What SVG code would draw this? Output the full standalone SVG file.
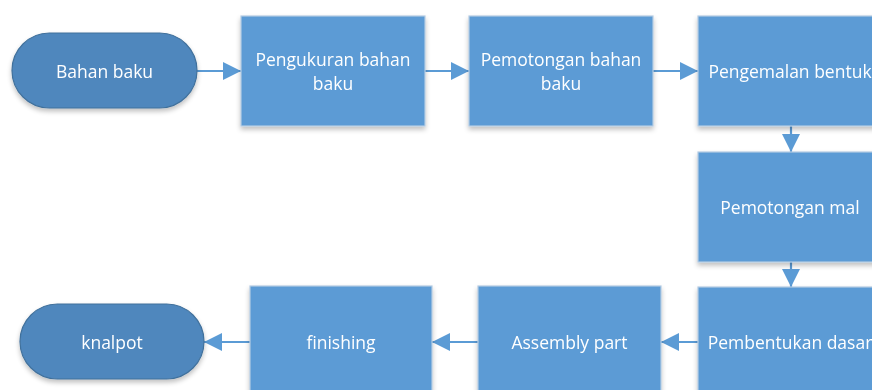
<svg xmlns="http://www.w3.org/2000/svg" width="872" height="390" viewBox="0 0 872 390">
<style>
.box{fill:#5B9BD5;stroke:#B4CBE3;stroke-width:1.2}
.term{fill:#4F87BD;stroke:#41719C;stroke-width:1.2}
.lbl{font-family:"Open Sans","Liberation Sans",sans-serif;font-size:17.5px;fill:#FFFFFF;text-anchor:middle}
.conn{stroke:#5B9BD5;stroke-width:2.2;fill:none}
</style>
<defs>
<filter id="sh" x="-10%" y="-10%" width="120%" height="130%">
<feGaussianBlur in="SourceAlpha" stdDeviation="2.5"/>
<feOffset dx="0" dy="3" result="b"/>
<feComponentTransfer><feFuncA type="linear" slope="0.25"/></feComponentTransfer>
<feMerge><feMergeNode/><feMergeNode in="SourceGraphic"/></feMerge>
</filter>
<marker id="ah" markerWidth="18" markerHeight="18" viewBox="0 0 18 18" refX="18" refY="9" orient="auto" markerUnits="userSpaceOnUse">
<path d="M0,0 L18,9 L0,18 Z" fill="#5B9BD5"/>
</marker>
</defs>
<g id="connectors">
<line class="conn" x1="197" y1="71" x2="241" y2="71" marker-end="url(#ah)"/>
<line class="conn" x1="425" y1="71" x2="469" y2="71" marker-end="url(#ah)"/>
<line class="conn" x1="653" y1="71" x2="698" y2="71" marker-end="url(#ah)"/>
<line class="conn" x1="791" y1="126" x2="791" y2="152" marker-end="url(#ah)"/>
<line class="conn" x1="791" y1="262" x2="791" y2="287" marker-end="url(#ah)"/>
<line class="conn" x1="698" y1="342" x2="661" y2="342" marker-end="url(#ah)"/>
<line class="conn" x1="478" y1="342" x2="432" y2="342" marker-end="url(#ah)"/>
<line class="conn" x1="250" y1="342" x2="204" y2="342" marker-end="url(#ah)"/>
</g>
<g id="bahan-baku" filter="url(#sh)">
<rect class="term" x="12" y="33" width="185" height="75" rx="37.5"/>
<text class="lbl" x="104.5" y="77.5">Bahan baku</text>
</g>
<g id="pengukuran" filter="url(#sh)">
<rect class="box" x="241" y="16" width="184" height="110"/>
<text class="lbl" x="333" y="65.5">Pengukuran bahan</text>
<text class="lbl" x="333" y="89.5">baku</text>
</g>
<g id="pemotongan-bahan" filter="url(#sh)">
<rect class="box" x="469" y="16" width="184" height="110"/>
<text class="lbl" x="561" y="65.5">Pemotongan bahan</text>
<text class="lbl" x="561" y="89.5">baku</text>
</g>
<g id="pengemalan" filter="url(#sh)">
<rect class="box" x="698" y="16" width="184" height="110"/>
<text class="lbl" x="790" y="77.5">Pengemalan bentuk</text>
</g>
<g id="pemotongan-mal" filter="url(#sh)">
<rect class="box" x="698" y="152" width="184" height="110"/>
<text class="lbl" x="790" y="213.5">Pemotongan mal</text>
</g>
<g id="pembentukan" filter="url(#sh)">
<rect class="box" x="698" y="287" width="184" height="110"/>
<text class="lbl" x="790" y="348.5">Pembentukan dasar</text>
</g>
<g id="assembly" filter="url(#sh)">
<rect class="box" x="478" y="286" width="183" height="110"/>
<text class="lbl" x="569.5" y="348.5">Assembly part</text>
</g>
<g id="finishing" filter="url(#sh)">
<rect class="box" x="250" y="286" width="182" height="110"/>
<text class="lbl" x="341" y="348.5">finishing</text>
</g>
<g id="knalpot" filter="url(#sh)">
<rect class="term" x="20" y="304" width="184" height="75" rx="37.5"/>
<text class="lbl" x="112" y="348.5">knalpot</text>
</g>
</svg>
